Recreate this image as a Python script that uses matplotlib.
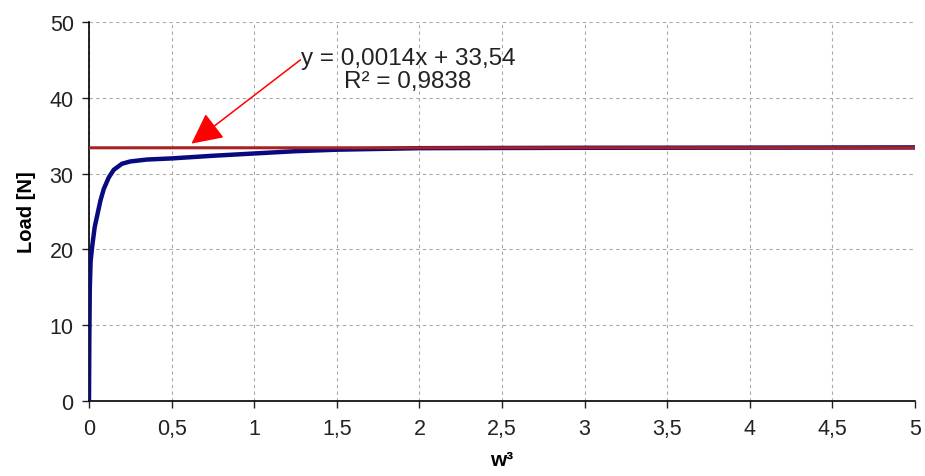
import matplotlib
matplotlib.use("Agg")
import matplotlib.pyplot as plt

# data
w3 = [0, 0.002, 0.005, 0.01, 0.02, 0.035, 0.05, 0.07, 0.09, 0.12, 0.15, 0.2,
      0.25, 0.35, 0.5, 0.75, 1.0, 1.25, 1.5, 2.0, 3.0, 4.0, 5.0]
load = [0, 8, 15, 18.5, 20.5, 23, 24.5, 26.5, 28, 29.5, 30.5, 31.3,
        31.6, 31.85, 32.0, 32.35, 32.65, 32.95, 33.15, 33.35, 33.4, 33.42, 33.45]
trend_x = [0, 5]
trend_y = [33.4, 33.41]
eq_text = "y = 0,0014x + 33,54\nR² = 0,9838"
xticks = [0, 0.5, 1, 1.5, 2, 2.5, 3, 3.5, 4, 4.5, 5]
xticklabels = ["0", "0,5", "1", "1,5", "2", "2,5", "3", "3,5", "4", "4,5", "5"]
yticks = [0, 10, 20, 30, 40, 50]

plt.rcParams['font.family'] = ['Liberation Sans', 'DejaVu Sans']

fig = plt.figure(figsize=(9.25, 4.77), dpi=100)
ax = fig.add_axes([0.0962, 0.157, 0.893, 0.795])

ax.plot(w3, load, color="#0a0a80", lw=3.2, solid_capstyle='butt', zorder=3)
ax.plot(trend_x, trend_y, color="#a82222", lw=2.2, zorder=4)

ax.set_xlim(0, 5)
ax.set_ylim(0, 50)
ax.set_xticks(xticks)
ax.set_xticklabels(xticklabels)
ax.set_yticks(yticks)
ax.tick_params(axis='both', colors='#222222', length=5, width=1, direction='out')
ax.tick_params(axis='y', labelsize=15.5, pad=6)
ax.tick_params(axis='x', labelsize=15.5, pad=7)
for s in ['top', 'right']:
    ax.spines[s].set_visible(False)
for s in ['left', 'bottom']:
    ax.spines[s].set_linewidth(1.2)
    ax.spines[s].set_color('black')

ax.grid(True, color='#aaaaaa', linestyle=(0, (3, 3)), linewidth=0.8, zorder=0)
ax.set_axisbelow(True)

ax.set_ylabel("Load [N]", fontsize=14.5, fontweight='bold', labelpad=10)
ax.set_xlabel("w³", fontsize=15, fontweight='bold', labelpad=8)

ax.annotate(eq_text, xy=(0.62, 33.95), xytext=(1.93, 43.7),
            ha='center', va='center', fontsize=17.5, color='#222222',
            linespacing=1.05,
            arrowprops=dict(arrowstyle='-|>,head_length=1.1,head_width=0.55',
                            color='#ff0000', lw=1.1,
                            shrinkA=0, shrinkB=0,
                            patchA=None, relpos=(0.0, 0.72)),
            zorder=5)

fig.savefig("out.png", dpi=100)
